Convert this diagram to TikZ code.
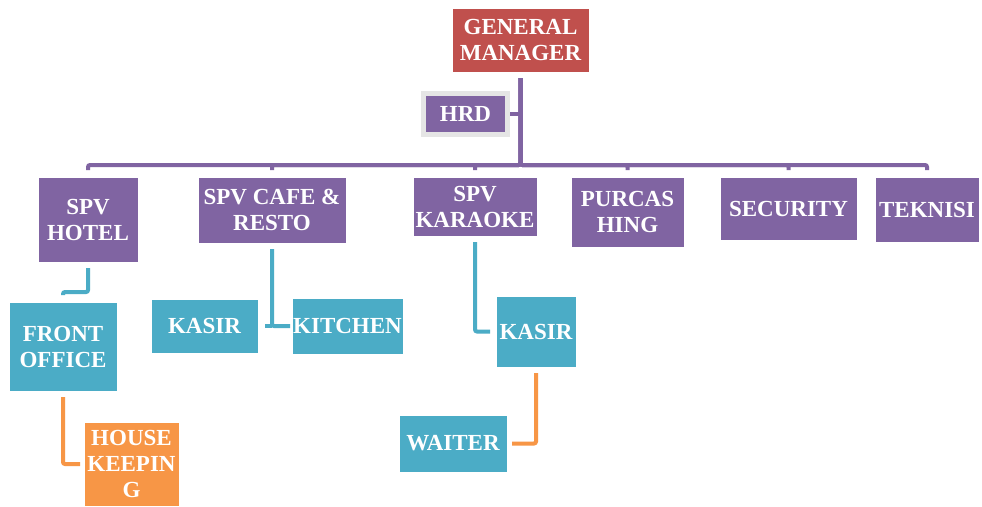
\documentclass[tikz,border=0pt]{standalone}
\usepackage{fontspec}
\setmainfont{Liberation Serif}
\usetikzlibrary{positioning}
\definecolor{warnaungu}{HTML}{8064A2}
\definecolor{warnabiru}{HTML}{4BACC6}
\definecolor{warnaoranye}{HTML}{F79646}
\definecolor{warnamerah}{HTML}{C0504D}
\tikzset{
    kotak/.style={rectangle,text=white,align=center,inner sep=0pt,outer sep=0pt,draw=white,line width=0.6pt},
    ungu/.style={kotak,fill=warnaungu},
    biru/.style={kotak,fill=warnabiru},
    oranye/.style={kotak,fill=warnaoranye},
    merah/.style={kotak,fill=warnamerah},
    garis/.style={line width=4pt,rounded corners=2pt},
    garisungu/.style={garis,draw=warnaungu},
    garisbiru/.style={garis,draw=warnabiru},
    garisoranye/.style={garis,draw=warnaoranye},
}
\begin{document}
\begin{tikzpicture}[
    x=1pt,y=1pt,
    every node/.style={font=\bfseries\fontsize{23}{26}\selectfont},
]
    \fill[white] (0,0) rectangle (982,-506);
    \useasboundingbox (0,0) rectangle (982,-506);
    \node [merah,minimum width=137pt,minimum height=64pt] (gm) at (520.5,-40) {GENERAL\\MANAGER};
    \node [ungu,draw=gray!20,line width=5pt,minimum width=84pt,minimum height=41pt,below=21.5pt of gm,xshift=-55pt] (hrd) {HRD};
    \coordinate (bus) at (0,-165);
    \node [ungu,minimum width=100pt,minimum height=85pt,anchor=north] (hotel) at (88,-177) {SPV\\HOTEL};
    \node [ungu,minimum width=148pt,minimum height=66pt,right=60pt of hotel.north east,anchor=north west] (cafe) {SPV CAFE \&\\RESTO};
    \node [ungu,minimum width=124pt,minimum height=59pt,right=67pt of cafe.north east,anchor=north west] (karaoke) {SPV\\KARAOKE};
    \node [ungu,minimum width=113pt,minimum height=70pt,right=34pt of karaoke.north east,anchor=north west] (purch) {PURCAS\\HING};
    \node [ungu,minimum width=137pt,minimum height=63pt,right=36pt of purch.north east,anchor=north west] (security) {SECURITY};
    \node [ungu,minimum width=104pt,minimum height=65pt,right=18pt of security.north east,anchor=north west] (teknisi) {TEKNISI};
    \node [biru,minimum width=108pt,minimum height=89pt,below=40pt of hotel,xshift=-25pt] (front) {FRONT\\OFFICE};
    \node [oranye,minimum width=95pt,minimum height=84pt,below=31pt of front,xshift=68.5pt] (housek) {HOUSE\\KEEPIN\\G};
    \node [biru,minimum width=107pt,minimum height=54pt,below=56pt of cafe,xshift=-67.5pt] (kasir1) {KASIR};
    \node [biru,minimum width=111pt,minimum height=56pt,right=34pt of kasir1] (kitchen) {KITCHEN};
    \node [biru,minimum width=80pt,minimum height=71pt,below=60pt of karaoke,xshift=61pt] (kasir2) {KASIR};
    \node [biru,minimum width=108pt,minimum height=57pt,below=48pt of kasir2,xshift=-83pt] (waiter) {WAITER};
    \foreach \anak in {hotel,cafe,karaoke,purch,security,teknisi}
        \draw [garisungu,shorten <=6pt,shorten >=7pt] (gm.south) -- (gm.south |- bus) -| (\anak.north);
    \draw [garisungu,shorten <=2.5pt] (hrd.east) -- (hrd.east -| gm.south);
    \draw [garisbiru,shorten <=6pt,shorten >=7pt] (hotel.south) -- ++(0,-30) -| (front.north);
    \draw [garisbiru,shorten <=6pt,shorten >=2pt] (cafe.south) |- (kitchen.west);
    \draw [garisbiru,shorten <=7pt] (kasir1.east) -- (kasir1.east -| cafe.south);
    \draw [garisbiru,shorten <=6pt,shorten >=6pt] (karaoke.south) |- (kasir2.west);
    \draw [garisoranye,shorten <=6pt,shorten >=4pt] (front.south) |- (housek.west);
    \draw [garisoranye,shorten <=6pt,shorten >=5pt] (kasir2.south) |- (waiter.east);
\end{tikzpicture}
\end{document}
